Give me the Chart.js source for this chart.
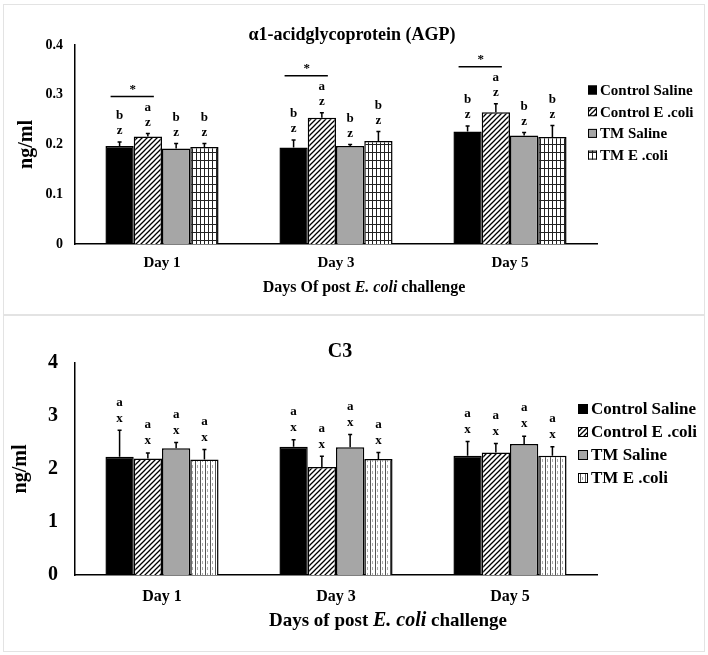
<!DOCTYPE html>
<html>
<head>
<meta charset="utf-8">
<script src="https://cdn.jsdelivr.net/npm/chart.js@4"></script>
<style>
  body { margin: 0; background: #fff; }
  .panel { position: absolute; left: 3px; width: 702px; border: 1px solid #e3e3e3; box-sizing: border-box; background: #fff; }
  #p1 { top: 4px; height: 311px; }
  #p2 { top: 315px; height: 337px; }
  canvas { position: absolute; left: 0; }
  #agpChart { top: 0; }
  #c3Chart { top: 315px; }
</style>
</head>
<body>
<div class="panel" id="p1"></div>
<div class="panel" id="p2"></div>
<canvas id="agpChart" width="708" height="314"></canvas>
<canvas id="c3Chart" width="708" height="340"></canvas>
<script>
var days = ["Day 1", "Day 3", "Day 5"];
var groups = ["Control Saline", "Control E .coli", "TM Saline", "TM E .coli"];

// AGP, ng/ml (mean and error)
var agpControlSaline = [0.197, 0.194, 0.226];
var agpControlEcoli = [0.216, 0.254, 0.265];
var agpTmSaline = [0.192, 0.197, 0.218];
var agpTmEcoli = [0.195, 0.207, 0.215];
var agpControlSalineSe = [0.008, 0.015, 0.011];
var agpControlEcoliSe = [0.006, 0.010, 0.017];
var agpTmSalineSe = [0.010, 0.003, 0.006];
var agpTmEcoliSe = [0.007, 0.019, 0.023];
var agpTicks = ["0", "0.1", "0.2", "0.3", "0.4"];
var agpSig = ["*", "*", "*"];

// C3, ng/ml
var c3ControlSaline = [2.23, 2.42, 2.25];
var c3ControlEcoli = [2.20, 2.04, 2.31];
var c3TmSaline = [2.39, 2.41, 2.47];
var c3TmEcoli = [2.18, 2.19, 2.25];
var c3ControlSalineSe = [0.50, 0.13, 0.27];
var c3ControlEcoliSe = [0.10, 0.20, 0.17];
var c3TmSalineSe = [0.11, 0.24, 0.15];
var c3TmEcoliSe = [0.19, 0.12, 0.17];
var c3Ticks = ["0", "1", "2", "3", "4"];

var serif = "'Liberation Serif', 'Times New Roman', serif";

// fill patterns
function makePattern(kind) {
  var c = document.createElement("canvas");
  var g = c.getContext("2d");
  if (kind === "diag") {
    c.width = 5; c.height = 5;
    g.fillStyle = "#fff"; g.fillRect(0, 0, 5, 5);
    g.strokeStyle = "#000"; g.lineWidth = 1.3;
    g.beginPath();
    g.moveTo(-1, 6); g.lineTo(6, -1);
    g.moveTo(-1, 1); g.lineTo(1, -1);
    g.moveTo(4, 6); g.lineTo(6, 4);
    g.stroke();
  } else if (kind === "grid") {
    c.width = 4; c.height = 8;
    g.fillStyle = "#fff"; g.fillRect(0, 0, 4, 8);
    g.fillStyle = "#222";
    g.fillRect(0, 0, 1, 8);
    g.fillRect(0, 0, 4, 1);
  } else {
    c.width = 5; c.height = 6;
    g.fillStyle = "#fff"; g.fillRect(0, 0, 5, 6);
    g.fillStyle = "#555";
    g.fillRect(0, 0, 1, 6);
    g.fillStyle = "#aaa";
    g.fillRect(2, 0, 1, 3);
  }
  return g.createPattern(c, "repeat");
}

var diagFill = makePattern("diag");
var gridFill = makePattern("grid");
var vertFill = makePattern("vert");

// error bars, letters, significance lines, legend and titles
var decor = {
  id: "decor",
  afterDatasetsDraw: function (chart, args, o) {
    var ctx = chart.ctx;
    var y = chart.scales.y;
    var area = chart.chartArea;
    ctx.save();
    ctx.fillStyle = "#000";
    ctx.strokeStyle = "#000";
    ctx.textAlign = "center";
    ctx.textBaseline = "middle";

    var tops = [];
    chart.data.datasets.forEach(function (ds, i) {
      var meta = chart.getDatasetMeta(i);
      tops[i] = [];
      meta.data.forEach(function (bar, j) {
        var top = y.getPixelForValue(ds.data[j] + ds.se[j]);
        tops[i][j] = top;
        ctx.lineWidth = 1.5;
        ctx.beginPath();
        ctx.moveTo(bar.x, bar.y);
        ctx.lineTo(bar.x, top);
        ctx.moveTo(bar.x - 2, top);
        ctx.lineTo(bar.x + 2, top);
        ctx.stroke();
        ctx.font = o.letterFont;
        ctx.fillText(ds.upper[j], bar.x, top - o.upperGap);
        ctx.fillText(ds.lower[j], bar.x, top - o.lowerGap);
      });
    });

    // significance lines between the two control groups
    if (o.sig) {
      var m0 = chart.getDatasetMeta(0), m1 = chart.getDatasetMeta(1);
      o.sig.forEach(function (s, j) {
        if (!s) return;
        var ly = tops[1][j] - 37;
        ctx.lineWidth = 1.5;
        ctx.beginPath();
        ctx.moveTo(m0.data[j].x - 9, ly);
        ctx.lineTo(m1.data[j].x + 6, ly);
        ctx.stroke();
        ctx.font = "bold 13px " + serif;
        ctx.fillText(s, (m0.data[j].x + m1.data[j].x) / 2 - 1, ly - 7);
      });
    }

    // legend
    ctx.textAlign = "left";
    chart.data.datasets.forEach(function (ds, i) {
      var cy = o.legendY + i * o.legendGap;
      var sz = o.markSize;
      ctx.fillStyle = ds.backgroundColor;
      ctx.fillRect(o.legendX, cy - sz / 2, sz, sz);
      ctx.lineWidth = 1;
      ctx.strokeRect(o.legendX + 0.5, cy - sz / 2 + 0.5, sz - 1, sz - 1);
      ctx.fillStyle = "#000";
      ctx.font = o.legendFont;
      ctx.fillText(ds.label, o.legendX + sz + 3, cy + 1);
    });

    // chart title
    ctx.textAlign = "center";
    ctx.font = o.titleFont;
    ctx.fillText(o.title, o.titleX, o.titleY);

    // y title
    ctx.save();
    ctx.translate(o.yTitleX, (area.top + area.bottom) / 2);
    ctx.rotate(-Math.PI / 2);
    ctx.font = o.yTitleFont;
    ctx.fillText("ng/ml", 0, 0);
    ctx.restore();

    // x title with italic part
    ctx.textAlign = "left";
    var total = 0;
    o.xTitle.forEach(function (p) { ctx.font = p.font; total += ctx.measureText(p.text).width; });
    var x = o.xTitleX - total / 2;
    o.xTitle.forEach(function (p) {
      ctx.font = p.font;
      ctx.fillText(p.text, x, o.xTitleY);
      x += ctx.measureText(p.text).width;
    });
    ctx.restore();
  }
};

function makeDatasets(vals, errs, upper, lower, lastFill) {
  var fills = ["#000", diagFill, "#a6a6a6", lastFill];
  return groups.map(function (g, i) {
    return {
      label: g,
      data: vals[i],
      se: errs[i],
      upper: upper[i],
      lower: lower[i],
      backgroundColor: fills[i],
      borderColor: "#000",
      borderWidth: 1.5
    };
  });
}

function makeChart(id, datasets, yMax, step, ticks, sizes, deco) {
  return new Chart(document.getElementById(id).getContext("2d"), {
    type: "bar",
    data: { labels: days, datasets: datasets },
    plugins: [decor],
    options: {
      responsive: false,
      animation: false,
      layout: { padding: { top: sizes.top, right: 111, bottom: 0, left: 0 } },
      datasets: { bar: { categoryPercentage: 0.65, barPercentage: 1.0 } },
      plugins: { legend: { display: false }, tooltip: { enabled: false }, decor: deco },
      scales: {
        x: {
          grid: { display: false, drawTicks: false },
          border: { display: true, color: "#000", width: 1.5 },
          ticks: { color: "#000", padding: sizes.xPad, font: { family: serif, weight: "bold", size: sizes.xFont } },
          afterFit: function (s) { s.height = sizes.xHeight; }
        },
        y: {
          min: 0,
          max: yMax,
          grid: { display: false, drawTicks: false },
          border: { display: true, color: "#000", width: 1.5 },
          ticks: {
            stepSize: step,
            color: "#000",
            padding: sizes.yPad,
            font: { family: serif, weight: "bold", size: sizes.yFont },
            callback: function (v, i) { return ticks[i]; }
          },
          afterFit: function (s) { s.width = 75; }
        }
      }
    }
  });
}

var agpUpper = [["b", "b", "b"], ["a", "a", "a"], ["b", "b", "b"], ["b", "b", "b"]];
var agpLower = [["z", "z", "z"], ["z", "z", "z"], ["z", "z", "z"], ["z", "z", "z"]];
var c3Upper = [["a", "a", "a"], ["a", "a", "a"], ["a", "a", "a"], ["a", "a", "a"]];
var c3Lower = [["x", "x", "x"], ["x", "x", "x"], ["x", "x", "x"], ["x", "x", "x"]];

makeChart("agpChart",
  makeDatasets([agpControlSaline, agpControlEcoli, agpTmSaline, agpTmEcoli],
    [agpControlSalineSe, agpControlEcoliSe, agpTmSalineSe, agpTmEcoliSe], agpUpper, agpLower, gridFill),
  0.4, 0.1, agpTicks,
  { top: 45, xHeight: 70, xPad: 10, xFont: 15, yPad: 12, yFont: 14 },
  {
    letterFont: "bold 13px " + serif, upperGap: 26, lowerGap: 11, sig: agpSig,
    legendX: 588, legendY: 90, legendGap: 21.7, markSize: 9, legendFont: "bold 15px " + serif,
    title: "\u03b11-acidglycoprotein (AGP)", titleFont: "bold 18px " + serif, titleX: 352, titleY: 35,
    yTitleX: 27, yTitleFont: "bold 20px " + serif,
    xTitleX: 364, xTitleY: 288,
    xTitle: [
      { text: "Days Of post ", font: "bold 16px " + serif },
      { text: "E. coli", font: "italic bold 16px " + serif },
      { text: " challenge", font: "bold 16px " + serif }
    ]
  });

makeChart("c3Chart",
  makeDatasets([c3ControlSaline, c3ControlEcoli, c3TmSaline, c3TmEcoli],
    [c3ControlSalineSe, c3ControlEcoliSe, c3TmSalineSe, c3TmEcoliSe], c3Upper, c3Lower, vertFill),
  4, 1, c3Ticks,
  { top: 48, xHeight: 80, xPad: 12, xFont: 16, yPad: 17, yFont: 20 },
  {
    letterFont: "bold 13px " + serif, upperGap: 28, lowerGap: 12, sig: null,
    legendX: 578, legendY: 94, legendGap: 23, markSize: 10, legendFont: "bold 17px " + serif,
    title: "C3", titleFont: "bold 20px " + serif, titleX: 340, titleY: 37,
    yTitleX: 21, yTitleFont: "bold 20px " + serif,
    xTitleX: 388, xTitleY: 306,
    xTitle: [
      { text: "Days of post ", font: "bold 19px " + serif },
      { text: "E. coli", font: "italic bold 20px " + serif },
      { text: " challenge", font: "bold 19px " + serif }
    ]
  });
</script>
</body>
</html>
